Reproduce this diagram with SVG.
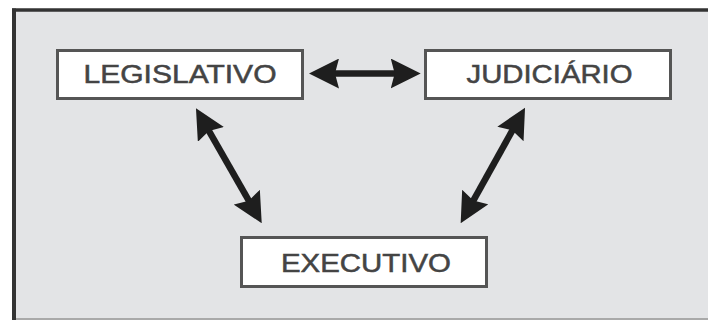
<svg xmlns="http://www.w3.org/2000/svg" width="708" height="320" viewBox="0 0 708 320">
  <style>
    .box { fill: #ffffff; stroke: #555555; stroke-width: 3; }
    .lbl { font-family: "Liberation Sans", Arial, sans-serif; font-size: 25px; fill: #444444; stroke: #444444; stroke-width: 0.5; text-anchor: middle; }
    .conn { stroke: #1e1e1e; stroke-width: 6.5; fill: none; marker-start: url(#head); marker-end: url(#head); }
  </style>
  <defs>
    <marker id="head" markerUnits="userSpaceOnUse" viewBox="0 0 30 30" markerWidth="30" markerHeight="30" refX="10" refY="15" orient="auto-start-reverse">
      <path d="M0,0 L30,15 L0,30 L4,15 Z" fill="#1e1e1e"/>
    </marker>
  </defs>
  <rect x="0" y="0" width="708" height="320" fill="#ffffff"/>
  <g id="frame">
    <rect x="14" y="10" width="700" height="309" fill="#e3e4e6"/>
    <line x1="12" y1="10" x2="708" y2="10" stroke="#333333" stroke-width="3.5"/>
    <line x1="14" y1="8.5" x2="14" y2="320" stroke="#333333" stroke-width="4"/>
    <line x1="16" y1="319" x2="708" y2="319" stroke="#a9a9a9" stroke-width="2"/>
  </g>
  <g id="connectors">
    <line class="conn" x1="329" y1="73.5" x2="400.7" y2="73.5"/>
    <line class="conn" x1="205.9" y1="125.7" x2="251.8" y2="205.9"/>
    <line class="conn" x1="515.3" y1="125.2" x2="470.4" y2="205.8"/>
  </g>
  <g id="legislativo">
    <rect class="box" x="57.5" y="50.5" width="245" height="48"/>
    <text class="lbl" x="180" y="83" textLength="193" lengthAdjust="spacingAndGlyphs">LEGISLATIVO</text>
  </g>
  <g id="judiciario">
    <rect class="box" x="425.5" y="50.5" width="245" height="48"/>
    <text class="lbl" x="549.5" y="83" textLength="166" lengthAdjust="spacingAndGlyphs">JUDICIÁRIO</text>
  </g>
  <g id="executivo">
    <rect class="box" x="241.5" y="237.5" width="245" height="49"/>
    <text class="lbl" x="366" y="272" textLength="170" lengthAdjust="spacingAndGlyphs">EXECUTIVO</text>
  </g>
</svg>
